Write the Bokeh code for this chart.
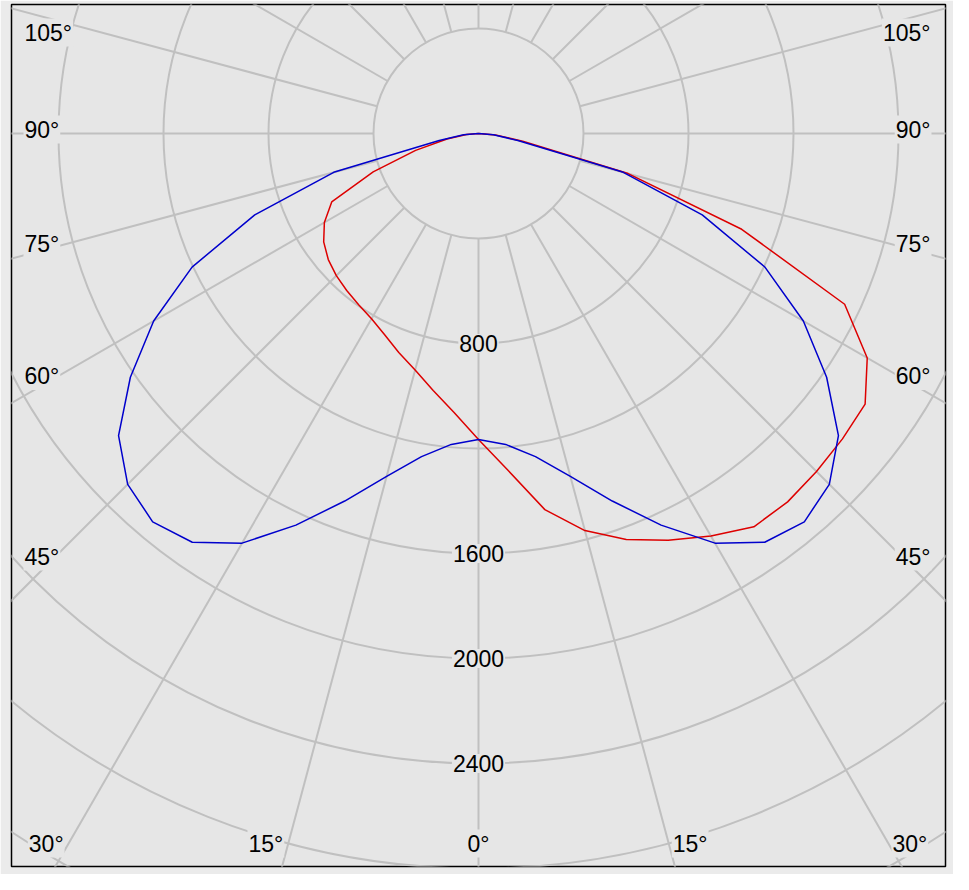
import numpy as np
from bokeh.plotting import figure
from bokeh.models import Label, Range1d
from bokeh.embed import file_html
from bokeh.resources import INLINE

# ---------------- data (cd) ----------------
gamma = [0, 5, 10, 15, 20, 25, 30, 35, 40, 45, 50, 55, 60, 65, 70, 75, 80, 85, 90]
# blue curve: symmetric plane (same values both sides)
blue_plane = [1166, 1189, 1250, 1352, 1490, 1646, 1802, 1901, 1931, 1890,
              1790, 1619, 1429, 1204, 907, 571, 152, 57, 0]
# red curve, right half
red_right = [1166, 1288, 1455, 1566, 1646, 1710, 1771, 1829, 1832, 1821,
             1810, 1798, 1710, 1539, 1067, 590, 171, 65, 0]
# red curve, left half
red_left = [1166, 1067, 994, 933, 888, 846, 815, 796, 781, 766,
            747, 720, 678, 617, 427, 248, 122, 46, 0]

ring_values = [400, 800, 1200, 1600, 2000, 2400, 2800, 3200]
ring_label_values = [800, 1600, 2000, 2400]
spoke_angles = list(range(0, 360, 15))
side_label_angles = [45, 60, 75, 90, 105]
bottom_label_angles = [-30, -15, 0, 15, 30]

# ---------------- geometry / style ----------------
PX = 0.2625          # pixels per cd
S = 1.0 / PX          # cd per pixel
X_HALF = 467 * S
Y_BOTTOM = -733 * S
Y_TOP = 129 * S

BG = "#e6e6e6"
GRID = "#c0c0c0"
FONT = "Liberation Sans"
FSIZE = "23px"

p = figure(width=953, height=874, output_backend="svg", toolbar_location=None,
           x_range=Range1d(-X_HALF, X_HALF), y_range=Range1d(Y_BOTTOM, Y_TOP),
           x_axis_location=None, y_axis_location=None, title=None,
           min_border_left=11, min_border_right=8, min_border_top=4, min_border_bottom=8)
p.grid.visible = False
p.background_fill_color = BG
p.border_fill_color = "#ebebeb"
p.outline_line_color = "#000000"
p.outline_line_width = 1.5

# rings
p.circle(x=[0] * len(ring_values), y=[0] * len(ring_values), radius=ring_values,
         fill_color=None, line_color=GRID, line_width=2)

# spokes (from inner ring outward)
r0 = ring_values[0]
r1 = 5000
sa = np.radians(spoke_angles)
p.segment(x0=r0 * np.sin(sa), y0=-r0 * np.cos(sa), x1=r1 * np.sin(sa), y1=-r1 * np.cos(sa),
          line_color=GRID, line_width=2)


def polar_curve(left_vals, right_vals):
    g = np.radians(gamma)
    lv = np.array(left_vals, dtype=float)
    rv = np.array(right_vals, dtype=float)
    xl = -lv * np.sin(g)
    yl = -lv * np.cos(g)
    xr = rv * np.sin(g)
    yr = -rv * np.cos(g)
    xs = np.concatenate([xl[::-1], xr[1:]])
    ys = np.concatenate([yl[::-1], yr[1:]])
    return xs, ys


bx, by = polar_curve(blue_plane, blue_plane)
rx, ry = polar_curve(red_left, red_right)
p.line(rx, ry, line_color="#dd0000", line_width=1.5)
p.line(bx, by, line_color="#0000cc", line_width=1.5)


def add_label(x, y, text, align):
    p.add_layout(Label(x=x, y=y, text=text, text_align=align, text_baseline="middle",
                       text_font=FONT, text_font_size=FSIZE, text_color="#000000",
                       background_fill_color=BG, background_fill_alpha=1.0, padding=1))


# ring labels
for v in ring_label_values:
    add_label(0, -v, str(v), "center")

# side angle labels
inset = (467 - 40) * S
for a in side_label_angles:
    ar = np.radians(a)
    y = -inset / np.tan(ar) + 4 * S
    y = min(y, Y_TOP - 28 * S)
    add_label(-X_HALF + 12 * S, y, f"{a}°", "left")
    add_label(X_HALF - 14 * S, y, f"{a}°", "right")

# bottom angle labels
yb = -710 * S
for a in bottom_label_angles:
    xs = -yb * np.tan(np.radians(a))
    if a < 0:
        add_label(xs - 4 * S, yb, f"{abs(a)}°", "right")
    elif a > 0:
        add_label(xs + 3 * S, yb, f"{a}°", "left")
    else:
        add_label(xs, yb, f"{a}°", "center")

open("out.html", "w").write(
    file_html(p, INLINE).replace("<body>", '<body style="background-color:#ebebeb">', 1))
